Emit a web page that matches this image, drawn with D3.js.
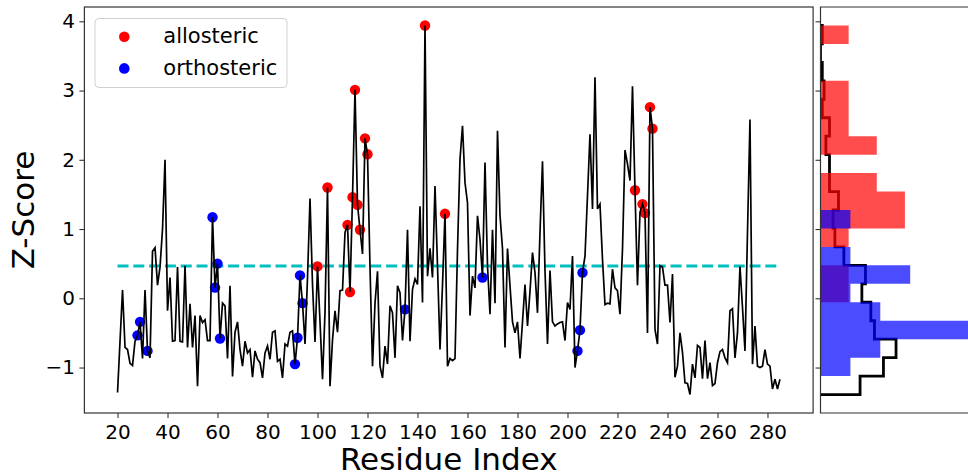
<!DOCTYPE html>
<html>
<head>
<meta charset="utf-8">
<script src="https://cdn.jsdelivr.net/npm/d3@7"></script>
<style>
body { margin: 0; background: #fff; }
svg { display: block; font-family: "DejaVu Sans", sans-serif; }
</style>
</head>
<body>
<svg width="968" height="473"></svg>
<script>
// z-score per residue, starting at residue 20
var firstResidue = 20;
var zScores = [
  -1.36, -0.62, 0.12, -0.71, -0.74, -0.94, -0.97, -0.62, -0.535, -0.34,
  -0.87, 0.12, -0.76, -0.86, 0.68, 0.73, 0.19, 0.45, 1.0, 2.0,
  -0.18, 0.30, -0.62, -0.61, 0.45, -0.62, -0.63, 0.47, -0.71, -0.08,
  -0.71, -0.25, -1.27, -0.25, -0.35, -0.31, -0.61, -0.61, 1.17, 0.155,
  0.50, -0.58, -0.07, -0.11, -0.87, 0.18, -1.13, -0.49, -0.34, -0.74,
  -0.98, -0.62, -0.79, -0.74, -1.14, -0.76, -0.88, -0.93, -1.15, -0.79,
  -0.69, -0.88, -0.49, -0.47, -0.91, -0.88, -1.15, -0.66, -0.69, -0.49,
  -0.47, -0.95, -0.57, 0.33, -0.07, -0.66, 0.30, 1.44, 0.20, -0.63,
  0.46, -0.34, -1.17, -0.20, 1.60, -1.27, -0.60, -0.18, -0.49, 0.11,
  0.12, 0.95, 1.06, 0.09, 1.46, 3.01, 1.35, 0.99, 0.64, 2.31,
  2.08, 0.45, -0.98, -0.07, 0.39, -0.98, -1.15, -0.69, -0.95, -0.11,
  -0.21, -0.86, 0.18, 0.08, -0.61, -0.16, 0.99, -0.62, 0.13, 0.28,
  0.20, 1.33, -0.06, 3.94, 0.32, 0.72, 0.30, 1.62, 0.47, -0.74,
  0.19, 1.22, -0.98, -0.87, -0.90, -0.87, 0.70, 2.01, 2.49, 1.67,
  1.38, -0.25, 0.32, 0.15, 1.19, 0.85, 0.30, 1.96, 0.47, -0.23,
  0.99, -0.07, 2.42, 1.20, 0.72, -0.71, 0.72, 0.18, -0.34, -0.50,
  -0.34, -0.87, -0.34, 0.20, -0.40, 0.10, 0.66, 0.37, -0.21, 0.95,
  1.98, 0.40, -0.66, 0.40, -0.34, -0.40, -0.37, -0.35, -0.34, -0.61,
  -0.06, -0.16, 0.61, -1.00, -0.76, -0.46, 0.37, 0.61, 1.48, 2.37,
  1.29, 3.19, 1.29, 1.36, 0.56, -0.09, -0.07, -0.08, 0.42, 0.15,
  0.11, -0.23, 0.71, 2.14, 1.94, 1.70, 3.06, 1.56, 0.19, 1.24,
  1.36, 1.23, -0.50, 2.76, 2.45, -0.45, -0.66, 0.47, 0.45, 0.19,
  0.19, -0.35, 0.35, -1.14, -0.98, -0.50, -0.78, -1.22, -1.23, -1.39,
  -0.95, -1.15, -0.68, -0.71, -1.16, -0.61, -1.16, -0.93, -1.26, -1.23,
  -0.93, -0.77, -0.74, -0.86, -0.93, -0.18, -0.15, -0.86, -0.50, 0.46,
  -0.13, -0.76, 0.95, 2.58, -0.95, -0.40, -0.98, -1.00, -0.98, -0.74,
  -0.95, -0.98, -1.31, -1.17, -1.31, -1.17
];

// residues marked on the profile
var allosteric = [100, 104, 112, 113, 114, 115, 116, 117, 119, 120, 143, 151, 227, 230, 231, 233, 234];
var orthosteric = [28, 29, 32, 58, 59, 60, 61, 91, 92, 93, 94, 135, 166, 204, 205, 206];

var threshold = 0.467;
var xTicks = d3.range(20, 281, 20);
var yTicks = [-1, 0, 1, 2, 3, 4];
var nBins = 20;

var svg = d3.select("svg"),
    plot = {left: 84.4, right: 813.1, top: 7, bottom: 413},
    side = {left: 820.5, right: 968, pxPerUnit: 127.5};

var data = zScores.map(function(z, i) { return {res: firstResidue + i, z: z}; });
var zByRes = new Map(data.map(function(d) { return [d.res, d.z]; }));

var xExt = d3.extent(data, function(d) { return d.res; }),
    yExt = d3.extent(data, function(d) { return d.z; }),
    xPad = (xExt[1] - xExt[0]) * 0.05,
    yPad = (yExt[1] - yExt[0]) * 0.05;

var x = d3.scaleLinear().domain([xExt[0] - xPad, xExt[1] + xPad]).range([plot.left, plot.right]),
    y = d3.scaleLinear().domain([yExt[0] - yPad, yExt[1] + yPad]).range([plot.bottom, plot.top]),
    hx = d3.scaleLinear().domain([0, 1]).range([side.left, side.left + side.pxPerUnit]);

// ---- main panel ----
svg.append("line")
    .attr("x1", x(xExt[0])).attr("x2", x(xExt[1]))
    .attr("y1", y(threshold)).attr("y2", y(threshold))
    .attr("stroke", "#00bfbf")
    .attr("stroke-width", 3)
    .attr("stroke-dasharray", "11,4.8");

function dots(list, color) {
  svg.append("g").selectAll("circle")
    .data(list)
    .enter().append("circle")
      .attr("cx", function(r) { return x(r); })
      .attr("cy", function(r) { return y(zByRes.get(r)); })
      .attr("r", 5.2)
      .attr("fill", color);
}
dots(allosteric, "#ff0000");
dots(orthosteric, "#0000ff");

var line = d3.line()
    .x(function(d) { return x(d.res); })
    .y(function(d) { return y(d.z); });

svg.append("path")
    .datum(data)
    .attr("d", line)
    .attr("fill", "none")
    .attr("stroke", "#000")
    .attr("stroke-width", 1.7);

svg.append("rect")
    .attr("x", plot.left).attr("y", plot.top)
    .attr("width", plot.right - plot.left).attr("height", plot.bottom - plot.top)
    .attr("fill", "none").attr("stroke", "#333").attr("stroke-width", 1.2);

var xAxis = svg.append("g")
    .attr("transform", "translate(0," + plot.bottom + ")")
    .call(d3.axisBottom(x).tickValues(xTicks).tickSize(5).tickPadding(7));
var yAxis = svg.append("g")
    .attr("transform", "translate(" + plot.left + ",0)")
    .call(d3.axisLeft(y).tickValues(yTicks).tickFormat(d3.format("d")).tickSize(5).tickPadding(4.5));

[xAxis, yAxis].forEach(function(a) {
  a.select(".domain").remove();
  a.selectAll("line").attr("stroke", "#333").attr("stroke-width", 1.1);
  a.selectAll("text").attr("fill", "#000").style("font-size", "20px").style("font-family", "DejaVu Sans");
});

svg.append("text")
    .attr("x", (plot.left + plot.right) / 2).attr("y", 470)
    .attr("text-anchor", "middle")
    .style("font-size", "31px")
    .text("Residue Index");

svg.append("text")
    .attr("transform", "translate(33.5," + (plot.top + plot.bottom) / 2 + ") rotate(-90)")
    .attr("text-anchor", "middle")
    .style("font-size", "31px")
    .text("Z-Score");

// legend
var legend = svg.append("g");
legend.append("rect")
    .attr("x", 95).attr("y", 18.5).attr("width", 192).attr("height", 69).attr("rx", 4)
    .attr("fill", "#fff").attr("fill-opacity", 0.8)
    .attr("stroke", "#d0d0d0");
[["allosteric", "#ff0000", 43.3], ["orthosteric", "#0000ff", 75]].forEach(function(l) {
  legend.append("circle").attr("cx", 124.3).attr("cy", l[2] - 6.6).attr("r", 5.3).attr("fill", l[1]);
  legend.append("text").attr("x", 163.3).attr("y", l[2]).style("font-size", "21px").text(l[0]);
});

// ---- side histograms (density) ----
var binW = (yExt[1] - yExt[0]) / nBins;
var binner = d3.bin()
    .domain(yExt)
    .thresholds(d3.range(1, nBins).map(function(i) { return yExt[0] + i * binW; }));

function density(values) {
  return binner(values).map(function(b) {
    return {y0: b.x0, y1: b.x1, d: b.length / (values.length * binW)};
  });
}

svg.append("clipPath").attr("id", "side-clip")
  .append("rect")
    .attr("x", side.left).attr("y", plot.top)
    .attr("width", side.right - side.left).attr("height", plot.bottom - plot.top);

var hist = svg.append("g").attr("clip-path", "url(#side-clip)");

var allBins = density(zScores);
var stepPts = [[0, allBins[0].y0]];
allBins.forEach(function(b) { stepPts.push([b.d, b.y0]); stepPts.push([b.d, b.y1]); });
stepPts.push([0, allBins[allBins.length - 1].y1]);

hist.append("path")
    .attr("d", d3.line().x(function(p) { return hx(p[0]); }).y(function(p) { return y(p[1]); })(stepPts))
    .attr("fill", "none")
    .attr("stroke", "#000")
    .attr("stroke-width", 2.8);

// each histogram as one path so touching bars do not show seams
function bars(list, color) {
  var vals = list.map(function(r) { return zByRes.get(r); });
  var p = d3.path();
  density(vals).forEach(function(b) {
    if (b.d <= 0) return;
    p.rect(hx(0), y(b.y1), hx(b.d) - hx(0), y(b.y0) - y(b.y1));
  });
  hist.append("path")
      .attr("d", p.toString())
      .attr("fill", color)
      .attr("fill-opacity", 0.7);
}
bars(allosteric, "#ff0000");
bars(orthosteric, "#0000ff");

var sideAxis = svg.append("g")
    .attr("transform", "translate(" + side.left + ",0)")
    .call(d3.axisLeft(y).tickValues(yTicks).tickSize(5).tickFormat(""));
sideAxis.select(".domain").remove();
sideAxis.selectAll("line").attr("stroke", "#333").attr("stroke-width", 1.1);

svg.append("path")
    .attr("d", "M" + side.right + "," + plot.top + "H" + side.left + "V" + plot.bottom + "H" + side.right)
    .attr("fill", "none").attr("stroke", "#333").attr("stroke-width", 1.2);
</script>
</body>
</html>
